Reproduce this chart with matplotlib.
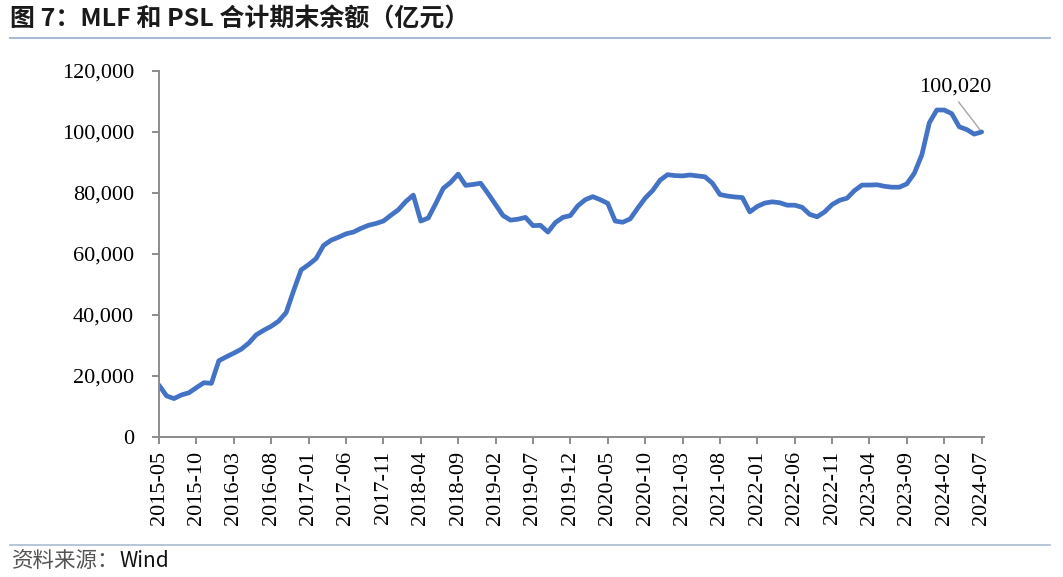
#!/usr/bin/env python3
"""MLF + PSL combined outstanding balance, monthly (100 million yuan)."""

import matplotlib

matplotlib.use("Agg")
import matplotlib.pyplot as plt
from matplotlib.lines import Line2D

plt.rcParams["font.family"] = ["Noto Sans CJK SC", "DejaVu Sans"]

# monthly points, 2015-05 .. 2024-07
start_year, start_month = 2015, 5
balance = [
    17000, 13500, 12600, 13800, 14500, 16200, 17800, 17600, 25000, 26300,
    27500, 28800, 30800, 33500, 35000, 36300, 38000, 40800, 48000, 54800,
    56500, 58500, 62800, 64500, 65500, 66600, 67200, 68400, 69400, 70000,
    70800, 72700, 74500, 77200, 79300, 70800, 71800, 76500, 81500, 83500,
    86200, 82500, 82800, 83200, 79800, 76200, 72600, 71100, 71400, 72000,
    69300, 69400, 67200, 70300, 72000, 72600, 75800, 77800, 78800, 77800,
    76600, 70800, 70400, 71500, 75000, 78300, 80800, 84200, 86000, 85700,
    85600, 85900, 85600, 85300, 83200, 79500, 79000, 78700, 78500, 73800,
    75600, 76700, 77100, 76800, 76000, 76000, 75300, 73000, 72200, 73800,
    76200, 77600, 78300, 80800, 82600, 82600, 82700, 82200, 81900, 81900,
    83000, 86500, 92500, 103000, 107200, 107200, 106000, 101700, 100800, 99300,
    100020,
]
last_label = "100,020"
title = "图 7：MLF 和 PSL 合计期末余额（亿元）"
source_prefix = "资料来源："
source_name = "Wind"
y_ticks = [0, 20000, 40000, 60000, 80000, 100000, 120000]

months = []
for k in range(len(balance)):
    m = start_month - 1 + k
    months.append(f"{start_year + m // 12}-{m % 12 + 1:02d}")
x = list(range(len(balance)))
tick_pos = x[::5]
tick_labels = months[::5]

fig = plt.figure(figsize=(10.63, 5.77), dpi=100)
ax = fig.add_axes([0.1496, 0.2426, 0.776, 0.6344])

ax.plot(x, balance, color="#4472C4", linewidth=3.4, solid_joinstyle="round", solid_capstyle="round")

serif = ["Liberation Serif", "DejaVu Serif"]
ax.set_xlim(0, len(balance) - 1 + 0.3)
ax.set_ylim(0, 120000)
ax.set_yticks(y_ticks)
ax.set_yticklabels([f"{v:,}" for v in y_ticks], family=serif, fontsize=16)
ax.set_xticks(tick_pos)
ax.set_xticklabels(tick_labels, rotation=90, family=serif, fontsize=16)

for side in ("top", "right"):
    ax.spines[side].set_visible(False)
for side in ("left", "bottom"):
    ax.spines[side].set_color("#8c8c8c")
    ax.spines[side].set_linewidth(1.4)
ax.tick_params(axis="both", direction="out", length=5, width=1.4, color="#8c8c8c",
               labelcolor="#000000")
ax.tick_params(axis="y", pad=13)
ax.tick_params(axis="x", pad=5)

# label on the last point with a thin leader line
ax.annotate(last_label, xy=(x[-1], balance[-1]), xytext=(x[-1] - 3.6, 114600),
            ha="center", va="center", family=serif, fontsize=16,
            arrowprops=dict(arrowstyle="-", color="#a6a6a6", lw=1.0, relpos=(0.5, 0.0),
                            shrinkA=2, shrinkB=2))

# header / footer
fig.text(0.009, 0.966, title, fontsize=18, fontweight="bold", ha="left", va="center",
         color="#1a1a1a")
fig.add_artist(Line2D([0.009, 0.988], [0.934, 0.934], color="#a9bcd2", lw=1.5))
fig.add_artist(Line2D([0.009, 0.988], [0.055, 0.055], color="#a9bcd2", lw=1.2))
t = fig.text(0.011, 0.027, source_prefix, fontsize=15.5, ha="left", va="center", color="#555555")
fig.canvas.draw()
bb = t.get_window_extent()
fig.text(bb.x1 / fig.bbox.width, 0.027, source_name, fontsize=15, ha="left", va="center",
         color="#111111")

fig.savefig("out.png", dpi=100)
plt.close(fig)
